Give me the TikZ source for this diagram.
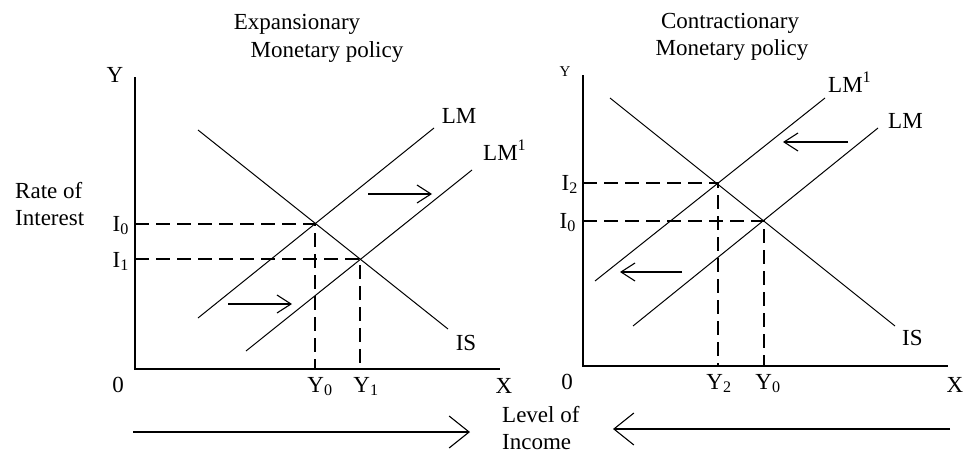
\documentclass[tikz,border=0pt]{standalone}
\usepackage{fontspec}
\setmainfont{Liberation Serif}
\usetikzlibrary{arrows.meta}
\begin{document}
\begin{tikzpicture}[x=1pt,y=-1pt,font=\fontsize{23}{27}\selectfont,
 axis/.style={line width=1.7pt},
 curve/.style={line width=1pt},
 guide/.style={line width=1.6pt,dash pattern=on 14pt off 7pt},
 shiftarr/.style={line width=1.1pt,-{Straight Barb[length=14pt,width=18pt,line width=1.1pt]}},
 incarr/.style={line width=1.1pt,-{Straight Barb[length=20pt,width=32pt,line width=1.1pt]}},
 lbl/.style={inner sep=0pt}]
\useasboundingbox (0,0) rectangle (967,455);
% left panel
\node[lbl,anchor=base] (expA) at (297,29) {Expansionary};
\node[lbl,anchor=base] (expB) at (327,57) {Monetary policy};
\coordinate (lO) at (135,369);
\coordinate (lTop) at (135,77);
\coordinate (lEnd) at (500,369);
\coordinate (lE0) at (315,224);
\coordinate (lE1) at (360,259);
\coordinate (lIsA) at (198,130);
\coordinate (lIsB) at (448,329);
\coordinate (lLmA) at (198,318);
\coordinate (lLmB) at (434,128);
\coordinate (lLm1A) at (246,351);
\coordinate (lLm1B) at (472,170);
\coordinate (lArA) at (368,194);
\coordinate (lArB) at (432,194);
\coordinate (lArC) at (228,304);
\coordinate (lArD) at (292,304);
\node[lbl] (lY) at (115,75) {Y};
\node[lbl,anchor=west,align=left] (rate) at (15,204) {Rate of\\Interest};
\node[lbl,anchor=base east] (lI0) at (129,231) {I\textsubscript{0}};
\node[lbl,anchor=base east] (lI1) at (129,267) {I\textsubscript{1}};
\node[lbl,anchor=base] (lZero) at (118,392) {0};
\node[lbl,anchor=base] (lY0) at (320,392) {Y\textsubscript{0}};
\node[lbl,anchor=base] (lY1) at (366,392) {Y\textsubscript{1}};
\node[lbl,anchor=base] (lX) at (504,393) {X};
\node[lbl,anchor=base] (lIS) at (466,350) {IS};
\node[lbl,anchor=base] (lLM) at (459,123) {LM};
\node[lbl,anchor=base west] (lLM1) at (483,160) {LM\textsuperscript{1}};
\draw[axis] (lTop)--(lO)--(lEnd);
\draw[curve] (lIsA)--(lIsB);
\draw[curve] (lLmA)--(lLmB);
\draw[curve] (lLm1A)--(lLm1B);
\draw[guide] (lO|-lE0)--(lE0)--(lE0|-lO);
\draw[guide] (lO|-lE1)--(lE1)--(lE1|-lO);
\draw[shiftarr] (lArA)--(lArB);
\draw[shiftarr] (lArC)--(lArD);
% right panel
\node[lbl,anchor=base] (conA) at (730,28) {Contractionary};
\node[lbl,anchor=base] (conB) at (732,55) {Monetary policy};
\coordinate (rO) at (583,366);
\coordinate (rTop) at (583,75);
\coordinate (rEnd) at (948,366);
\coordinate (rE2) at (718,183);
\coordinate (rE0) at (764,221);
\coordinate (rIsA) at (610,98);
\coordinate (rIsB) at (895,326);
\coordinate (rLm1A) at (595,281);
\coordinate (rLm1B) at (825,98);
\coordinate (rLmA) at (633,326);
\coordinate (rLmB) at (878,128);
\coordinate (rArA) at (848,142);
\coordinate (rArB) at (783,142);
\coordinate (rArC) at (682,272);
\coordinate (rArD) at (620,272);
\node[lbl,font=\fontsize{15}{17}\selectfont] (rY) at (565,72) {Y};
\node[lbl,anchor=base east] (rI2) at (578,190) {I\textsubscript{2}};
\node[lbl,anchor=base east] (rI0) at (576,228) {I\textsubscript{0}};
\node[lbl,anchor=base] (rZero) at (567,389) {0};
\node[lbl,anchor=base] (rY2) at (719,389) {Y\textsubscript{2}};
\node[lbl,anchor=base] (rY0) at (768,389) {Y\textsubscript{0}};
\node[lbl,anchor=base] (rX) at (955,392) {X};
\node[lbl,anchor=base west] (rIS) at (902,345) {IS};
\node[lbl,anchor=base west] (rLM) at (888,128) {LM};
\node[lbl,anchor=base west] (rLM1) at (828,92) {LM\textsuperscript{1}};
\draw[axis] (rTop)--(rO)--(rEnd);
\draw[curve] (rIsA)--(rIsB);
\draw[curve] (rLmA)--(rLmB);
\draw[curve] (rLm1A)--(rLm1B);
\draw[guide] (rO|-rE2)--(rE2)--(rE2|-rO);
\draw[guide] (rO|-rE0)--(rE0)--(rE0|-rO);
\draw[shiftarr] (rArA)--(rArB);
\draw[shiftarr] (rArC)--(rArD);
% income arrows
\node[lbl,anchor=west,align=left] (income) at (502,428) {Level of\\Income};
\coordinate (incA) at (133,432);
\coordinate (incB) at (470,432);
\coordinate (incC) at (950,429);
\coordinate (incD) at (613,429);
\draw[incarr] (incA)--(incB);
\draw[incarr] (incC)--(incD);
\end{tikzpicture}
\end{document}
